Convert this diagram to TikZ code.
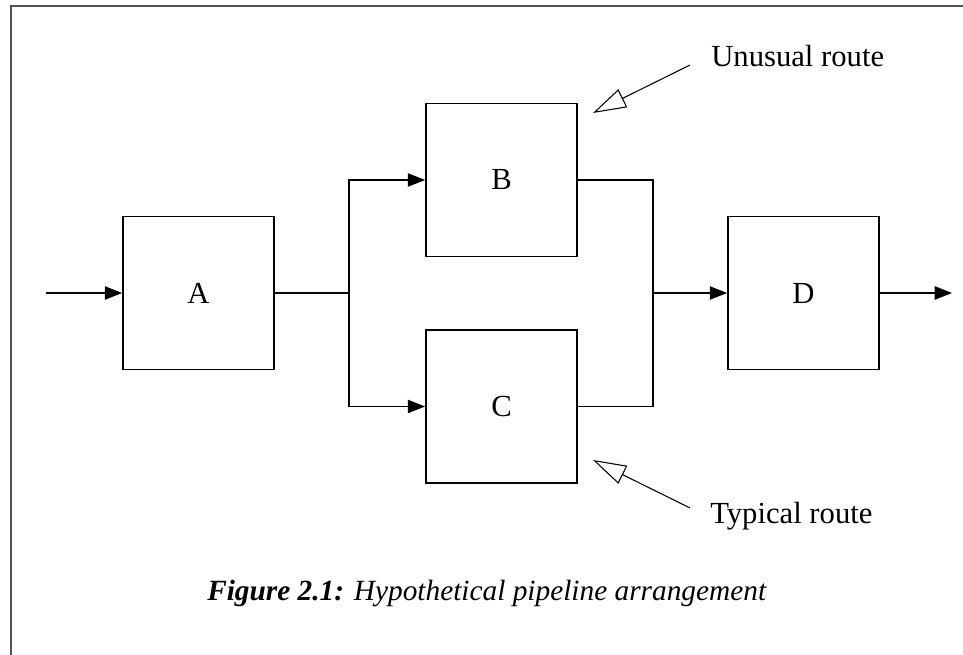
\documentclass[tikz,border=0pt]{standalone}
\usepackage{fontspec}
\setmainfont{Liberation Serif}
\usetikzlibrary{arrows.meta}
\begin{document}
\begin{tikzpicture}[x=0.75pt,y=-0.75pt,
  stage/.style={draw,line width=1.1pt,minimum width=113.5pt,minimum height=114.5pt,
    inner sep=0pt,font=\fontsize{23}{27}\selectfont},
  flow/.style={line width=1.1pt},
  flowarrow/.style={flow,-{Triangle[length=13pt,width=10pt]}},
  pointer/.style={line width=0.8pt,-{Triangle[open,length=25pt,width=15pt,line width=0.8pt]}},
  note/.style={font=\fontsize{23}{27}\selectfont,anchor=base west,inner sep=0pt},
  frame/.style={draw=black!68,line width=1.5pt}]
\useasboundingbox (0,0) rectangle (963,655);
% outer frame: top and left edges only
\draw[frame] (11,655) -- (11,6.5) -- (963,6.5);

% pipeline stages
\node[stage] (A) at (198.5,293) {A};
\node[stage] (B) at (501.5,180) {B};
\node[stage] (C) at (501.5,406.5) {C};
\node[stage] (D) at (803.5,293) {D};

% routing points
\coordinate (in) at (46,293);
\coordinate (out) at (952,293);
\coordinate (split) at (349,293);
\coordinate (merge) at (653,293);

% connections
\draw[flowarrow] (in) -- (A.west);
\draw[flow] (A.east) -- (split);
\draw[flowarrow] (split) |- (B.west);
\draw[flowarrow] (split) |- (C.west);
\draw[flow] (B.east) -| (merge);
\draw[flow] (C.east) -| (merge);
\draw[flowarrow] (merge) -- (D.west);
\draw[flowarrow] (D.east) -- (out);

% annotations
\node[note] (unusual) at (711,67) {Unusual route};
\node[note] (typical) at (710,523) {Typical route};
\coordinate (uTail) at (690,65);
\coordinate (uTip) at (593,113);
\coordinate (tTail) at (690,508);
\coordinate (tTip) at (593,460);
\draw[pointer] (uTail) -- (uTip);
\draw[pointer] (tTail) -- (tTip);

% caption
\node[font=\fontsize{22}{26}\selectfont,anchor=base] (caption) at (487,600)
  {\textbf{\textit{Figure 2.1:}} \textit{Hypothetical pipeline arrangement}};
\end{tikzpicture}
\end{document}
